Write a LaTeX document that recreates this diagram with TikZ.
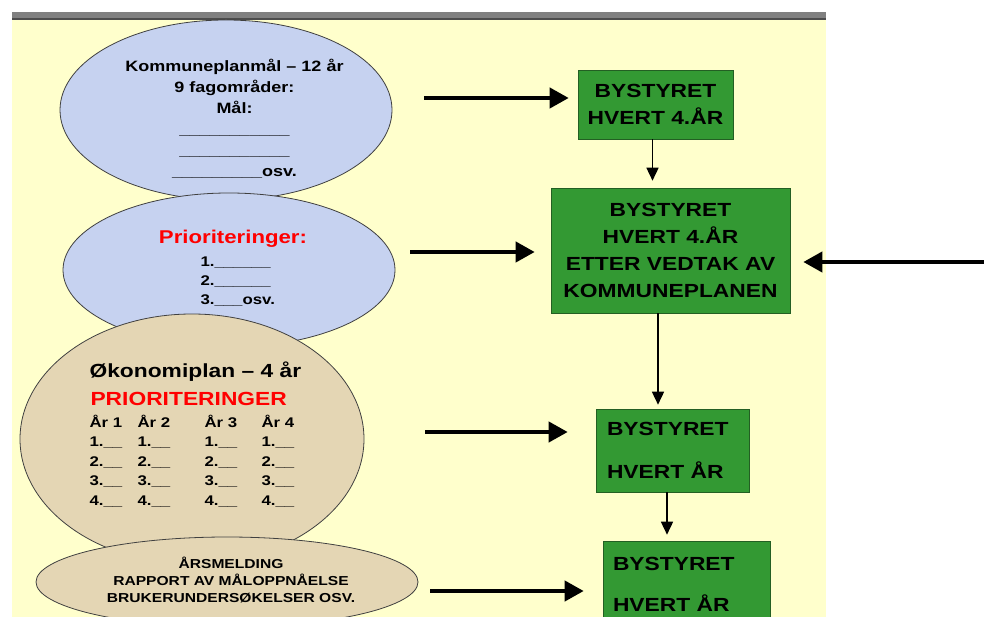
\documentclass[tikz,border=0pt]{standalone}
\usepackage{fontspec}
\setmainfont{Liberation Sans}[FakeStretch=1.2]
\usepackage{xcolor}
\usepackage{tikz}
\usetikzlibrary{shapes,arrows.meta,positioning}

\definecolor{panel}{RGB}{255,255,204}
\definecolor{topbar}{RGB}{128,128,128}
\definecolor{skyblue}{RGB}{198,210,240}
\definecolor{sand}{RGB}{228,214,180}
\definecolor{boxgreen}{RGB}{51,153,51}
\definecolor{boxedge}{RGB}{35,95,35}
\definecolor{prio}{RGB}{255,0,0}

\newcommand{\blanks}[1]{\foreach \k in {1,...,#1}{\_}}

\begin{document}
\begin{tikzpicture}[x=1pt, y=-1pt,
  every node/.style={font=\bfseries},
  plate/.style={draw=black!75, line width=0.8pt, ellipse},
  board/.style={draw=boxedge, line width=0.6pt, fill=boxgreen, align=center, font=\fontsize{19}{27}\selectfont\bfseries},
  bigarrow/.style={line width=4pt, -{Triangle[length=19pt,width=20pt]}},
  smallarrow/.style={line width=1.5pt, -{Triangle[length=13pt,width=12pt]}}]
  \useasboundingbox (0,0) rectangle (984,617);
  \clip (0,0) rectangle (984,617);
  \fill[white] (0,0) rectangle (984,617);
  \fill[panel] (12,20) rectangle (826,617);
  \fill[topbar] (12,12) rectangle (826,20);
  \draw[black!70, line width=1.5pt] (12,19.25) -- (826,19.25);

  \node[plate, fill=skyblue, minimum width=332pt, minimum height=180pt] (maal) at (226,110) {};
  \node[plate, fill=skyblue, minimum width=332pt, minimum height=154pt] (prio) at (229,270) {};
  \node[plate, fill=sand, minimum width=344pt, minimum height=250pt] (oko) at (192,439) {};
  \node[plate, fill=sand, minimum width=382pt, minimum height=90pt] (aars) at (227,582) {};

  \node[anchor=base, align=center, font=\fontsize{15}{21}\selectfont\bfseries] (maaltxt) at (234.5,177)
    {Kommuneplanmål -- 12 år\\9 fagområder:\\Mål:\\\blanks{11}\\\blanks{11}\\\blanks{9}osv.};
  \node[anchor=base, text=prio, font=\fontsize{18.5}{22}\selectfont\bfseries] (priotitle) at (233,244) {Prioriteringer:};
  \node[anchor=base west, align=left, font=\fontsize{14}{19}\selectfont\bfseries] (priolist) at (197,305)
    {1.\blanks{6}\\2.\blanks{6}\\3.\blanks{3}osv.};
  \node[anchor=base west, font=\fontsize{19}{22}\selectfont\bfseries] (okotitle) at (86,377) {Økonomiplan -- 4 år};
  \node[anchor=base west, text=prio, font=\fontsize{19}{22}\selectfont\bfseries] (okoprio) at (87,405) {PRIORITERINGER};
  \foreach \x [count=\i] in {86,134,201,258}
    \node[anchor=base west, align=left, font=\fontsize{14}{19.5}\selectfont\bfseries] (aar\i) at (\x,505)
      {År \i\\1.\blanks{2}\\2.\blanks{2}\\3.\blanks{2}\\4.\blanks{2}};
  \node[anchor=base, align=center, font=\fontsize{13}{17}\selectfont\bfseries] (aarstxt) at (231,602)
    {ÅRSMELDING\\RAPPORT AV MÅLOPPNÅELSE\\BRUKERUNDERSØKELSER OSV.};

  \node[board, minimum width=155pt, minimum height=69pt] (byA) at (655.5,104.5) {BYSTYRET\\HVERT 4.ÅR};
  \node[board, minimum width=239pt, minimum height=125pt] (byB) at (670.5,250.5)
    {BYSTYRET\\HVERT 4.ÅR\\ETTER VEDTAK AV\\KOMMUNEPLANEN};
  \node[board, minimum height=83pt, inner xsep=11pt, text width=131pt, align=left,
    font=\fontsize{19}{43}\selectfont\bfseries] (byC) at (672.5,450.5) {BYSTYRET\\HVERT ÅR};
  \node[board, minimum height=87pt, inner xsep=10pt, text width=147pt, align=left,
    font=\fontsize{19}{41}\selectfont\bfseries] (byD) at (686.5,584.5) {BYSTYRET\\HVERT ÅR};

  \coordinate (t1) at (424,98);
  \coordinate (t2) at (410,252);
  \coordinate (t3) at (425,432);
  \coordinate (t4) at (430,591);
  \coordinate (t5) at (984,262);
  \draw[bigarrow, shorten >=9pt] (t1) -- (t1 -| byA.west);
  \draw[bigarrow, shorten >=16pt] (t2) -- (t2 -| byB.west);
  \draw[bigarrow, shorten >=28pt] (t3) -- (t3 -| byC.west);
  \draw[bigarrow, shorten >=19pt] (t4) -- (t4 -| byD.west);
  \draw[bigarrow, shorten >=13pt] (t5) -- (t5 -| byB.east);

  \draw[smallarrow, shorten >=7pt] ([xshift=-3pt]byA.south) -- ([xshift=-3pt]byA.south |- byB.north);
  \draw[smallarrow, shorten >=4pt] ([xshift=-12.5pt]byB.south) -- ([xshift=-12.5pt]byB.south |- byC.north);
  \draw[smallarrow, shorten >=6pt] ([xshift=-5.5pt]byC.south) -- ([xshift=-5.5pt]byC.south |- byD.north);
\end{tikzpicture}
\end{document}
